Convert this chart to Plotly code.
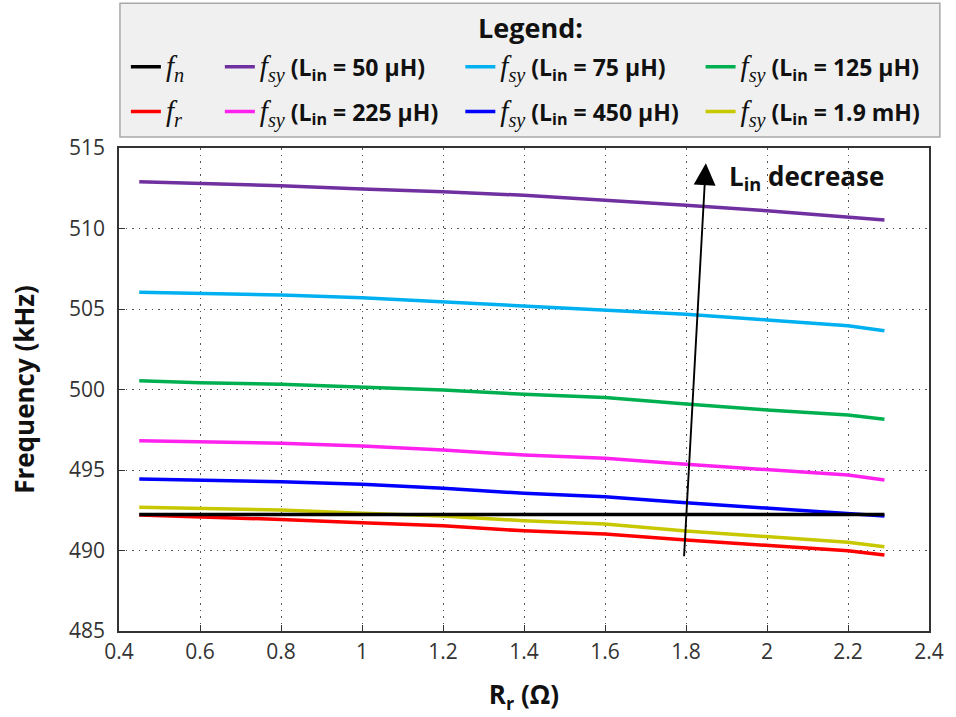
import plotly.graph_objects as go

# Load resistance sweep (ohm)
rr = [0.45, 0.6, 0.8, 1.0, 1.2, 1.4, 1.6, 1.8, 2.0, 2.2, 2.29]

# Frequencies in kHz
f_n = [492.24, 492.24, 492.24, 492.24, 492.24, 492.24, 492.24, 492.24, 492.24, 492.24, 492.24]
f_r = [492.20, 492.09, 491.93, 491.72, 491.53, 491.22, 491.02, 490.65, 490.30, 489.99, 489.72]
f_sy_50u = [512.90, 512.81, 512.66, 512.45, 512.29, 512.06, 511.77, 511.44, 511.10, 510.73, 510.53]
f_sy_75u = [506.04, 505.97, 505.87, 505.70, 505.45, 505.20, 504.94, 504.67, 504.32, 503.96, 503.65]
f_sy_125u = [500.54, 500.42, 500.32, 500.17, 499.97, 499.70, 499.51, 499.10, 498.73, 498.42, 498.15]
f_sy_225u = [496.82, 496.76, 496.66, 496.49, 496.24, 495.93, 495.73, 495.35, 495.00, 494.69, 494.38]
f_sy_450u = [494.44, 494.38, 494.27, 494.11, 493.86, 493.55, 493.34, 492.97, 492.62, 492.31, 492.14]
f_sy_1m9 = [492.68, 492.62, 492.52, 492.31, 492.14, 491.85, 491.65, 491.21, 490.86, 490.51, 490.24]

SERIF = "font-family:Liberation Serif;font-weight:normal;font-size:29px"
FSY = f"<span style='{SERIF}'><i>f<sub>sy</sub></i></span>"


def lin_label(value):
    return FSY + f" <b>(L<sub>in</sub> = {value})</b>"


series = [
    # (name, values, colour, legend, row)
    (f"<span style='{SERIF}'><i>f<sub>r</sub></i></span>", f_r, "#ff0000", "legend", 2),
    (lin_label("1.9 mH"), f_sy_1m9, "#c8c800", "legend4", 2),
    (lin_label("450 μH"), f_sy_450u, "#0000ff", "legend3", 2),
    (lin_label("225 μH"), f_sy_225u, "#ff22ee", "legend2", 2),
    (lin_label("125 μH"), f_sy_125u, "#00b050", "legend4", 1),
    (lin_label("75 μH"), f_sy_75u, "#00b0f0", "legend3", 1),
    (lin_label("50 μH"), f_sy_50u, "#7030a0", "legend2", 1),
    (f"<span style='{SERIF}'><i>f<sub>n</sub></i></span>", f_n, "#000000", "legend", 1),
]

fig = go.Figure()
for i, (name, vals, col, lg, row) in enumerate(series):
    fig.add_trace(go.Scatter(
        x=rr, y=vals, mode="lines", name=name,
        line=dict(color=col, width=3.5),
        legend=lg, legendgroup=f"g{i}", legendrank=row,
    ))

legend_common = dict(
    orientation="v", xanchor="left", yanchor="top",
    bgcolor="rgba(0,0,0,0)", borderwidth=0,
    font=dict(family="Open Sans", size=23, color="#111111"),
    tracegroupgap=12, traceorder="grouped",
    itemwidth=30,
)

TITLE_FONT = dict(family="Open Sans", size=26, color="#111111")
TICK_FONT = dict(family="Open Sans", size=21, color="#333333")
AXIS = dict(showgrid=True, gridcolor="#555555", griddash="1.5px,5px", gridwidth=1.2,
            showline=True, linecolor="#333333", linewidth=1.5, mirror=True,
            ticks="inside", ticklen=6, tickcolor="#333333", zeroline=False,
            tickfont=TICK_FONT)

fig.update_layout(
    width=956, height=717,
    paper_bgcolor="white", plot_bgcolor="white",
    margin=dict(l=119, r=19, t=148, b=85),
    font=dict(family="Open Sans", size=20, color="#222222"),
    showlegend=True,
    legend=dict(x=0.0085, y=1.2127, **legend_common),
    legend2=dict(x=0.1245, y=1.2127, **legend_common),
    legend3=dict(x=0.4214, y=1.2127, **legend_common),
    legend4=dict(x=0.7180, y=1.2127, **legend_common),
    xaxis=dict(
        range=[0.4, 2.4], dtick=0.2, tick0=0.4, ticklabelstandoff=1, **AXIS,
        title=dict(text="<b>R<sub>r</sub> (Ω)</b>", font=TITLE_FONT, standoff=22),
    ),
    yaxis=dict(
        range=[485, 515], dtick=5, ticklabelstandoff=8, **AXIS,
        title=dict(text="<b>Frequency (kHz)</b>", font=TITLE_FONT, standoff=27),
    ),
)

# Legend frame and heading
fig.add_shape(type="rect", xref="paper", yref="paper",
              x0=0.0012, x1=1.0134, y0=1.0227, y1=1.2996,
              fillcolor="#f0f0f0", line=dict(color="#a8a8a8", width=1.5), layer="below")
fig.add_annotation(xref="paper", yref="paper", x=0.5077, y=1.25,
                   text="<b>Legend:</b>", showarrow=False, yanchor="middle",
                   font=dict(family="Open Sans", size=27, color="#111111"))

# Trend arrow
fig.add_annotation(x=1.849, y=514.05, ax=1.795, ay=489.55, xref="x", yref="y",
                   axref="x", ayref="y", text="", showarrow=True,
                   arrowhead=2, arrowsize=2.3, arrowwidth=1.9, arrowcolor="#000000")
fig.add_annotation(x=1.9, y=513.2, xref="x", yref="y", xanchor="left", yanchor="middle",
                   text="<b>L<sub>in</sub> decrease</b>", showarrow=False,
                   font=dict(family="Open Sans", size=26, color="#111111"))

fig.write_html("out.html")
